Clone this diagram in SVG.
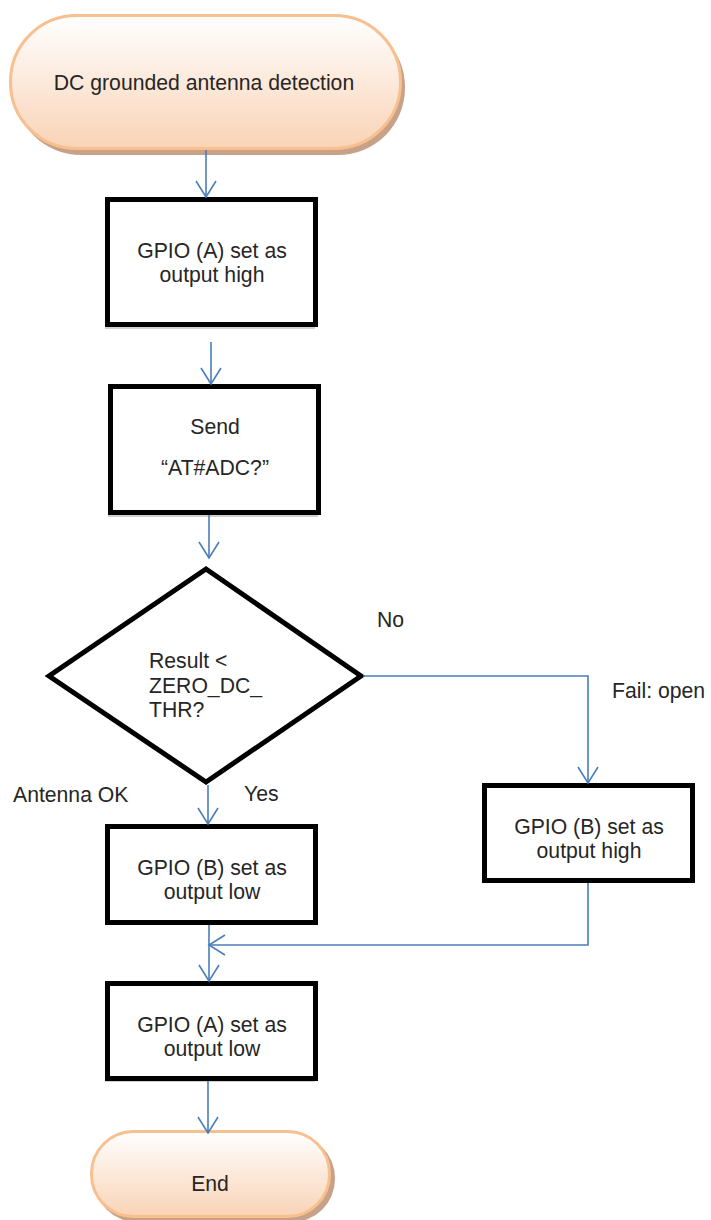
<svg xmlns="http://www.w3.org/2000/svg" width="711" height="1220" viewBox="0 0 711 1220">
<defs>
<linearGradient id="termGrad" x1="0" y1="0" x2="0" y2="1">
<stop offset="0" stop-color="#FFFFFF"/>
<stop offset="1" stop-color="#F9D3B6"/>
</linearGradient>
<marker id="arr" markerUnits="userSpaceOnUse" markerWidth="20" markerHeight="24" viewBox="-18 -12 20 24" refX="0" refY="0" orient="auto">
<path d="M -16 -10 L 0 0 L -16 10" fill="none" stroke="#4A7EBB" stroke-width="1.6"/>
</marker>
<style>
text{font-family:"Liberation Sans",Arial,sans-serif;font-size:21.2px;fill:#262626}
.c{text-anchor:middle}
.box{fill:#fff;stroke:#000;stroke-width:5}
.sh{fill:#b0b0b0;opacity:0.6}
.term{fill:url(#termGrad);stroke:#F8BF8F;stroke-width:3}
.tsh{fill:#C8A288}
.conn{fill:none;stroke:#4A7EBB;stroke-width:1.6}
</style>
</defs>
<rect width="711" height="1220" fill="#fff"/>

<g id="start">
<rect class="tsh" x="14" y="20" width="391" height="135" rx="67" ry="67"/>
<rect class="term" x="10.5" y="15.5" width="390" height="133" rx="66" ry="66"/>
<text class="c" x="204" y="90">DC grounded antenna detection</text>
</g>

<g id="gpioA_high">
<rect class="sh" x="105" y="202" width="210" height="127"/>
<rect class="box" x="107.5" y="199.5" width="208" height="125"/>
<text class="c" x="212" y="258">GPIO (A) set as</text>
<text class="c" x="212" y="282">output high</text>
</g>

<g id="send_adc">
<rect class="sh" x="108" y="389" width="210" height="128"/>
<rect class="box" x="110.5" y="386.5" width="208" height="126"/>
<text class="c" x="215" y="434">Send</text>
<text class="c" x="215" y="475">“AT#ADC?”</text>
</g>

<g id="decision">
<polygon points="206,569 361,676 206,782 49,676" fill="#fff" stroke="#000" stroke-width="5"/>
<text x="149" y="668">Result &lt;</text>
<text x="149" y="693">ZERO_DC_</text>
<text x="149" y="717">THR?</text>
</g>

<g id="gpioB_low">
<rect class="sh" x="105" y="829" width="210" height="96"/>
<rect class="box" x="107.5" y="826.5" width="208" height="96"/>
<text class="c" x="212" y="875">GPIO (B) set as</text>
<text class="c" x="212" y="899">output low</text>
</g>

<g id="gpioB_high">
<rect class="sh" x="482" y="788" width="210" height="95"/>
<rect class="box" x="484.5" y="785.5" width="208" height="95"/>
<text class="c" x="589" y="834">GPIO (B) set as</text>
<text class="c" x="589" y="858">output high</text>
</g>

<g id="gpioA_low">
<rect class="sh" x="105" y="986" width="210" height="96"/>
<rect class="box" x="107.5" y="983.5" width="208" height="95"/>
<text class="c" x="212" y="1032">GPIO (A) set as</text>
<text class="c" x="212" y="1056">output low</text>
</g>

<g id="end">
<rect class="tsh" x="94" y="1135" width="241" height="87" rx="43" ry="43"/>
<rect class="term" x="91.5" y="1131.5" width="238" height="85" rx="42" ry="42"/>
<text class="c" x="210" y="1191">End</text>
</g>

<g id="connectors">
<path class="conn" d="M 206 150 L 206 197" marker-end="url(#arr)"/>
<path class="conn" d="M 211 342 L 211 384" marker-end="url(#arr)"/>
<path class="conn" d="M 209 515 L 209 558" marker-end="url(#arr)"/>
<path class="conn" d="M 363 676 L 588 676 L 588 783" marker-end="url(#arr)"/>
<path class="conn" d="M 208 785 L 208 824" marker-end="url(#arr)"/>
<path class="conn" d="M 588 883 L 588 945 L 209 945" marker-end="url(#arr)"/>
<path class="conn" d="M 209 925 L 209 981" marker-end="url(#arr)"/>
<path class="conn" d="M 208 1081 L 208 1133" marker-end="url(#arr)"/>
</g>

<g id="labels">
<text x="377" y="627">No</text>
<text x="612" y="698">Fail: open</text>
<text x="244" y="801">Yes</text>
<text x="13" y="802">Antenna OK</text>
</g>
</svg>
